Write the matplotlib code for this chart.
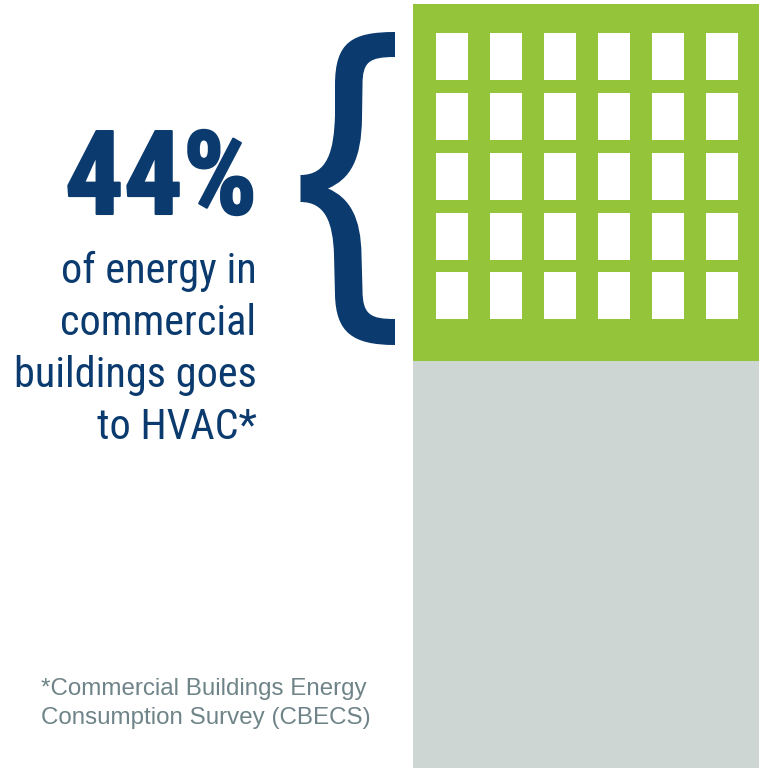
import matplotlib
matplotlib.use("Agg")
import matplotlib.pyplot as plt
import matplotlib.patheffects as pe
from matplotlib.patches import PathPatch, Rectangle
from matplotlib.path import Path

W, H = 759, 768
NAVY = "#0A3A6E"
GREEN = "#93C43A"
GREY = "#CDD6D3"

# Share of energy, split across the building
hvac_share = 44
other_share = 56

headline = "44%"
body_lines = ["of energy in", "commercial", "buildings goes", "to HVAC*"]
body_baselines = [283, 335, 387, 439]
footnote_lines = ["*Commercial Buildings Energy", "Consumption Survey (CBECS)"]
footnote_baselines = [695, 724]

window_rows = [33, 93, 153, 213, 272]
window_cols = [436, 490, 544, 598, 652, 706]

fig = plt.figure(figsize=(W / 100, H / 100), dpi=100, facecolor="white")

# Building body: percent scale, the lower block runs off the bottom edge
bar_ax = fig.add_axes([413 / W, 0, 346 / W, 764 / H])
bar_ax.bar(0, hvac_share, width=1, color=GREEN)
bar_ax.bar(0, other_share, width=1, bottom=hvac_share, color=GREY)
bar_ax.set_xlim(-0.5, 0.5)
bar_ax.set_ylim(hvac_share * 764 / 357, 0)
bar_ax.axis("off")

# Overlay in pixel units for windows, brace and text
ax = fig.add_axes([0, 0, 1, 1])
ax.set_xlim(0, W)
ax.set_ylim(H, 0)
ax.axis("off")
ax.patch.set_alpha(0)

for top in window_rows:
    for left in window_cols:
        ax.add_patch(Rectangle((left, top), 32, 47, facecolor="white", edgecolor="none"))

M, L, C, Z = Path.MOVETO, Path.LINETO, Path.CURVE4, Path.CLOSEPOLY
brace = [
    (M, (395, 32)),
    (C, (352, 32)), (C, (335, 42)), (C, (335, 85)),
    (L, (335, 115)),
    (C, (334, 150)), (C, (328, 175)), (C, (300.5, 175)),
    (L, (300.5, 202)),
    (C, (325, 202)), (C, (333, 222)), (C, (334, 255)),
    (L, (335, 295)),
    (C, (336, 332)), (C, (352, 345)), (C, (395, 345)),
    (L, (395, 319)),
    (C, (371, 319)), (C, (362.5, 315)), (C, (362.5, 290)),
    (L, (361.5, 255)),
    (C, (361, 218)), (C, (350, 198)), (C, (328, 188.5)),
    (C, (350, 179)), (C, (361.5, 160)), (C, (362, 118)),
    (L, (362.5, 85)),
    (C, (362.5, 62)), (C, (369, 57)), (C, (395, 57)),
    (Z, (395, 32)),
]
ax.add_patch(PathPatch(Path([p for _, p in brace], [c for c, _ in brace]),
                       facecolor=NAVY, edgecolor="none"))

ax.text(257, 214, headline, ha="right", va="baseline", color=NAVY,
        family="Roboto Condensed", weight="bold", fontsize=84,
        path_effects=[pe.withStroke(linewidth=1.5, foreground=NAVY)])

for line, y in zip(body_lines, body_baselines):
    ax.text(256.5, y, line, ha="right", va="baseline", color=NAVY,
            family="Roboto Condensed", fontsize=30.4)

for line, y in zip(footnote_lines, footnote_baselines):
    ax.text(41, y, line, ha="left", va="baseline", color="#6F8488",
            family="Liberation Sans", fontsize=17.35)

fig.savefig("out.png", dpi=100)
